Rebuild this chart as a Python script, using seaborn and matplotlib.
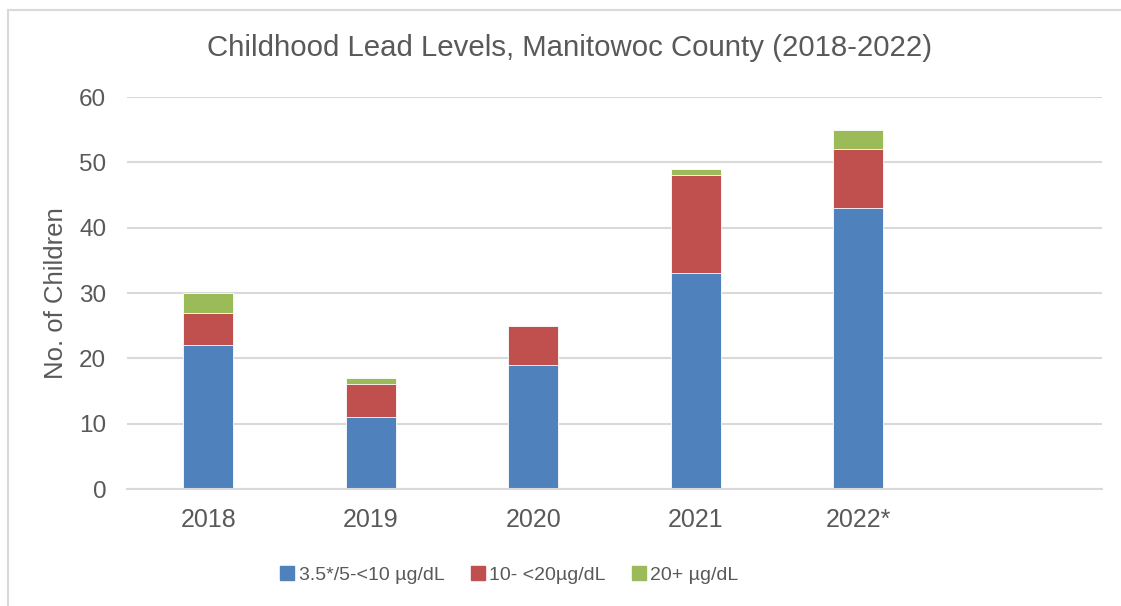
import matplotlib
matplotlib.use("Agg")
import matplotlib.pyplot as plt
import seaborn as sns
import pandas as pd
from matplotlib.patches import Rectangle
from matplotlib.lines import Line2D

years = ["2018", "2019", "2020", "2021", "2022*"]
low = [22, 11, 19, 33, 43]
mid = [5, 5, 6, 15, 9]
high = [3, 1, 0, 1, 3]
series_names = ["3.5*/5-<10 µg/dL", "10- <20µg/dL", "20+ µg/dL"]
colors = ["#4F81BD", "#C0504D", "#9BBB59"]
yticks = [0, 10, 20, 30, 40, 50, 60]

sns.set_theme(style="white")
plt.rcParams['font.family'] = ['Liberation Sans', 'DejaVu Sans']

df = pd.DataFrame({"year": years, "low": low, "mid": mid, "high": high})
df["c2"] = df["low"] + df["mid"]
df["c3"] = df["c2"] + df["high"]

fig = plt.figure(figsize=(11.21, 6.06), dpi=100)
ax = fig.add_axes([127/1121, 1-489/606, (1102-127)/1121, (489-97)/606])

txt = "#595959"
for col, c in zip(["c3", "c2", "low"], colors[::-1]):
    sns.barplot(data=df, x="year", y=col, order=years, color=c, width=0.31,
                edgecolor="white", linewidth=0.6, ax=ax, saturation=1)

ax.set_xlim(-0.5, 5.5)
ax.set_ylim(0, 60)
ax.set_yticks(yticks)
ax.grid(axis="y", color="#D9D9D9", linewidth=1.5)
ax.set_axisbelow(True)
for s in ["top", "right", "left"]:
    ax.spines[s].set_visible(False)
ax.spines["bottom"].set_color("#D9D9D9")
ax.spines["bottom"].set_linewidth(1.5)
ax.tick_params(axis="both", length=0, labelsize=17.5, colors=txt)
ax.tick_params(axis="y", pad=15)
ax.tick_params(axis="x", pad=14, labelsize=18)
ax.set_xlabel("")
ax.set_ylabel("No. of Children", fontsize=18.5, color=txt, labelpad=8)

fig.suptitle("Childhood Lead Levels, Manitowoc County (2018-2022)", fontsize=21.2,
             color=txt, x=570/1121, y=1-48/606, va="center")

handles = [Line2D([], [], marker="s", linestyle="none", markersize=10,
                  markerfacecolor=c, markeredgecolor=c) for c in colors]
fig.legend(handles, series_names, loc="center", bbox_to_anchor=(508/1121, 1-575/606),
           ncol=3, frameon=False, fontsize=14, labelcolor=txt,
           handletextpad=0.1, columnspacing=1.2, handlelength=1.0)

fig.add_artist(Rectangle((8/1121, -0.1), 1.2, 1 - 10/606 + 0.1, transform=fig.transFigure,
                         fill=False, edgecolor="#D9D9D9", linewidth=1.5))

fig.savefig("out.png", dpi=100)
